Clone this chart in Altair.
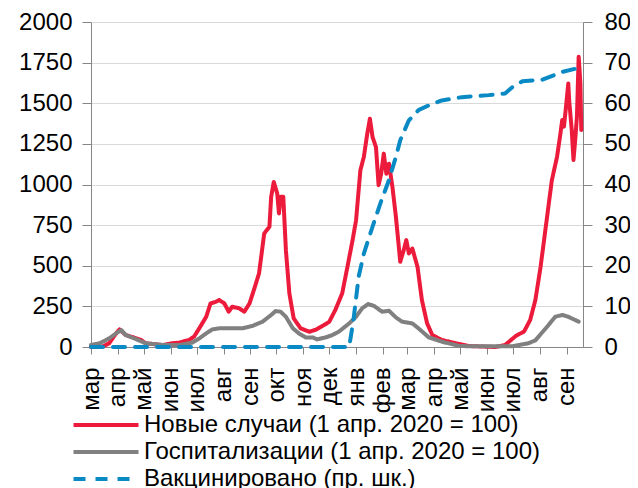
import altair as alt
import pandas as pd

# month tick positions (days since 2020-03-01) and labels
month_days = [0, 31, 61, 92, 122, 153, 184, 214, 245, 275, 306, 337, 365, 396, 426, 457, 487, 518, 549]
month_labels = ["мар", "апр", "май", "июн", "июл", "авг", "сен", "окт", "ноя", "дек",
                "янв", "фев", "мар", "апр", "май", "июн", "июл", "авг", "сен"]

# New cases (index, 1 Apr 2020 = 100)
cases_day = [0, 13, 21, 29, 33, 40, 48, 58, 63, 83, 94, 102, 113, 119, 125, 133, 138, 144, 148,
             154, 159, 163, 171, 177, 183, 188, 194, 200, 206, 208, 211, 215, 217, 219, 222, 225,
             229, 234, 242, 252, 259, 269, 275, 282, 290, 296, 302, 306, 311, 315, 319, 322, 325,
             329, 332, 335, 338, 341, 344, 348, 352, 355, 357, 361, 364, 367, 371, 377, 382, 388,
             394, 405, 421, 436, 467, 478, 490, 500, 507, 513, 519, 525, 532, 538, 542, 544, 546,
             548, 551, 552, 555, 557, 559, 561, 563, 565, 566]
cases_val = [0, 2, 23, 84, 108, 74, 60, 43, 23, 12, 23, 27, 43, 64, 115, 186, 268, 278, 289,
             268, 217, 248, 238, 217, 268, 350, 453, 699, 740, 924, 1016, 945, 822, 924, 924, 596,
             330, 176, 115, 94, 105, 135, 155, 227, 330, 492, 658, 780, 1088, 1170, 1315, 1405, 1293,
             1230, 996, 1066, 1190, 1066, 1128, 985, 801, 637, 524, 596, 658, 576, 606, 492, 289, 146,
             74, 43, 23, 6, 0, 12, 66, 96, 166, 289, 492, 738, 1025, 1170, 1315, 1397, 1356,
             1458, 1622, 1520, 1336, 1151, 1274, 1418, 1786, 1622, 1336]

# Hospitalisations (index, 1 Apr 2020 = 100)
hosp_day = [0, 10, 21, 29, 35, 40, 50, 63, 83, 102, 117, 125, 133, 140, 148, 175, 186, 198, 208,
            213, 219, 225, 233, 240, 248, 256, 261, 271, 278, 286, 298, 306, 313, 320, 327, 336,
            344, 352, 359, 371, 378, 390, 405, 425, 448, 486, 505, 513, 525, 536, 544, 551, 563]
hosp_val = [12, 23, 53, 84, 104, 74, 53, 23, 12, 12, 27, 53, 84, 108, 115, 115, 129, 156, 197,
            221, 217, 186, 115, 84, 59, 59, 47, 59, 72, 94, 145, 186, 238, 264, 252, 217,
            223, 182, 156, 145, 115, 59, 33, 6, 4, 4, 23, 41, 115, 186, 197, 186, 156]

# Vaccinated (% of population, right axis)
vacc_day = [0, 298, 303, 309, 315, 325, 334, 344, 352, 357, 367, 378, 390, 405, 428, 459, 478,
            486, 498, 521, 544, 567]
vacc_val = [0, 0, 6.6, 17.3, 23.0, 29.6, 35.3, 41.1, 46.8, 50.9, 55.8, 58.3, 59.5, 60.7, 61.5,
            62.0, 62.4, 63.9, 65.4, 65.8, 67.7, 68.9]

series_names = ["Новые случаи (1 апр. 2020 = 100)",
                "Госпитализации (1 апр. 2020 = 100)",
                "Вакцинировано (пр. шк.)"]
colors = ["#EC1A3B", "#808080", "#0A8AC4"]
dashes = [[1, 0], [1, 0], [12, 10]]

df = pd.concat([
    pd.DataFrame({"day": cases_day, "value": cases_val, "series": series_names[0]}),
    pd.DataFrame({"day": hosp_day, "value": hosp_val, "series": series_names[1]}),
    pd.DataFrame({"day": vacc_day, "value": vacc_val, "series": series_names[2]}),
], ignore_index=True)

FONT = "Liberation Sans"
AX = "#868686"

label_expr = "[" + ",".join("'" + m + "'" for m in month_labels) + "][indexof([" + \
    ",".join(str(d) for d in month_days) + "], datum.value)]"

x_enc = alt.X("day:Q", scale=alt.Scale(domain=[0, 568], nice=False, zero=False),
              axis=alt.Axis(values=month_days, labelExpr=label_expr, labelAngle=270, grid=False,
                            title=None, tickSize=7, labelPadding=13, labelFontSize=24,
                            labelFont=FONT, labelColor="black", domainColor=AX, tickColor=AX,
                            labelOverlap=False, labelBound=False, labelFlush=False))

y_left = alt.Y("value:Q", scale=alt.Scale(domain=[0, 2000], nice=False),
               axis=alt.Axis(values=list(range(0, 2001, 250)), format="d", title=None, grid=True,
                             gridColor="#D9D9D9", gridWidth=1, tickSize=9, labelPadding=10,
                             labelFontSize=24, labelFont=FONT, labelColor="black",
                             domainColor=AX, tickColor=AX, labelOverlap=False))

y_right = alt.Y("value:Q", scale=alt.Scale(domain=[0, 80], nice=False),
                axis=alt.Axis(orient="right", values=list(range(0, 81, 10)), format="d", title=None,
                              grid=False, tickSize=9, labelPadding=12, labelFontSize=24,
                              labelFont=FONT, labelColor="black", domainColor=AX,
                              tickColor=AX, labelOverlap=False))

leg = alt.Legend(title=None)
color_enc = alt.Color("series:N", scale=alt.Scale(domain=series_names, range=colors), legend=leg)
dash_enc = alt.StrokeDash("series:N", scale=alt.Scale(domain=series_names, range=dashes), legend=leg)

base = alt.Chart(df)

red = base.transform_filter(alt.datum.series == series_names[0]).mark_line(
    strokeWidth=4, strokeJoin="round", strokeCap="round").encode(
    x=x_enc, y=y_left, color=color_enc, strokeDash=dash_enc)
gray = base.transform_filter(alt.datum.series == series_names[1]).mark_line(
    strokeWidth=4, strokeJoin="round", strokeCap="round").encode(
    x=x_enc, y=y_left, color=color_enc, strokeDash=dash_enc)
blue = base.transform_filter(alt.datum.series == series_names[2]).mark_line(
    strokeWidth=4, strokeJoin="round", strokeCap="round").encode(
    x=x_enc, y=y_right, color=color_enc, strokeDash=dash_enc)

chart = alt.layer(alt.layer(red, gray), blue).resolve_scale(y="independent").properties(
    width=492, height=325,
    padding={"left": 83, "top": 14, "right": 47, "bottom": 150},
    autosize="none",
).configure_view(stroke=None).configure_legend(
    orient="none", legendX=3, legendY=391, direction="vertical",
    symbolType="M-5,0H5", symbolSize=169, symbolStrokeWidth=4,
    labelFontSize=24, labelFont=FONT, labelColor="black", labelLimit=1000,
    rowPadding=3, padding=0, labelOffset=26,
)

chart.save("out.html", embed_options={"renderer": "svg", "actions": False})
